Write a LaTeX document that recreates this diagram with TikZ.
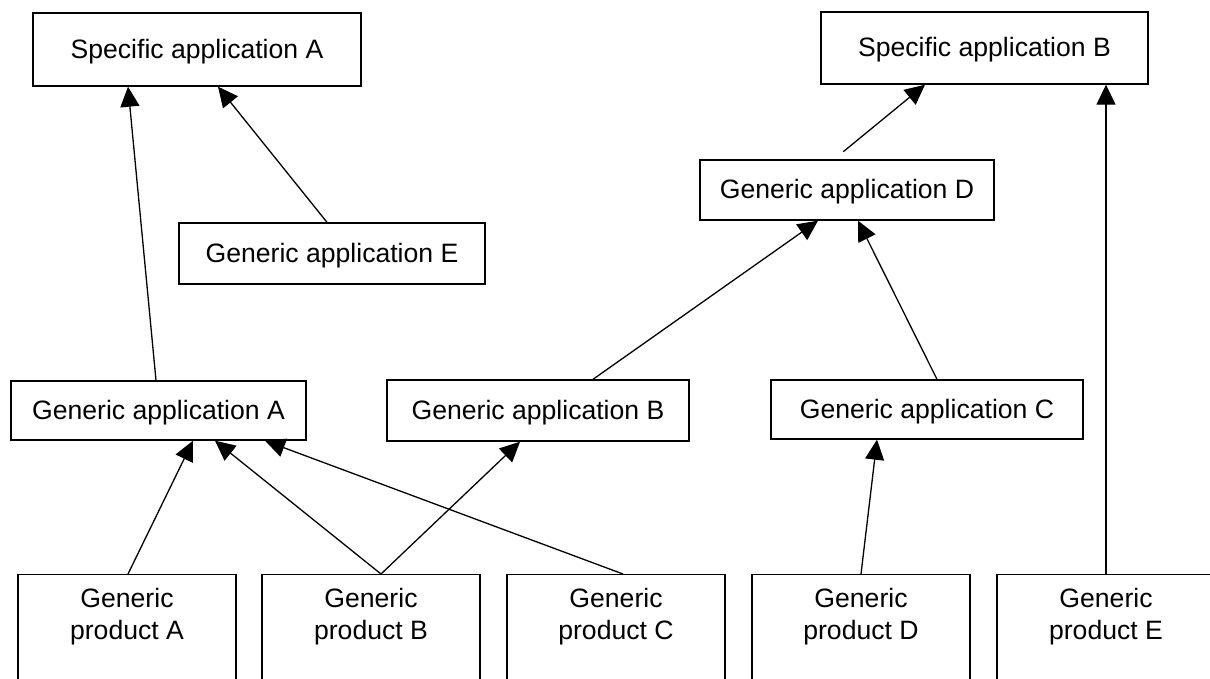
\documentclass[tikz,border=0pt]{standalone}
\usepackage{fontspec}
\setmainfont{Liberation Sans}
\usetikzlibrary{arrows.meta}

\tikzset{
  box/.style={draw, line width=1.4pt, inner sep=0pt, text height=19.4pt, text depth=1.5pt,
              font=\fontsize{26.6}{32}\selectfont},
  prodbox/.style={draw, line width=1.4pt, inner sep=0pt, anchor=north,
                  minimum width=218pt, minimum height=160pt},
  prodtext/.style={anchor=north, inner sep=0pt, align=center,
                  font=\fontsize{26.6}{32}\selectfont},
  arr/.style={line width=1.3pt, -{Triangle[length=20pt, width=19pt]}}
}

\begin{document}
\begin{tikzpicture}[x=1pt, y=-1pt]
  \useasboundingbox (0,0) rectangle (1210,679);
  \clip (0,0) rectangle (1210,679);

  % applications
  \node[box, minimum width=328pt, minimum height=73pt] (sA) at (197,49.5) {Specific application A};
  \node[box, minimum width=327pt, minimum height=72pt] (sB) at (984.5,48) {Specific application B};
  \node[box, minimum width=294pt, minimum height=60pt] (gD) at (847,190) {Generic application D};
  \node[box, minimum width=306pt, minimum height=61pt] (gE) at (332,253.5) {Generic application E};
  \node[box, minimum width=295pt, minimum height=59pt] (gA) at (158.5,410.5) {Generic application A};
  \node[box, minimum width=302pt, minimum height=61pt] (gB) at (538,410.5) {Generic application B};
  \node[box, minimum width=312pt, minimum height=59pt] (gC) at (927,409.5) {Generic application C};

  % products
  \foreach \n/\x/\l in {pA/127/A, pB/371/B, pC/616/C, pD/861/D, pE/1106/E} {
    \node[prodbox] (\n) at (\x,574) {};
    \node[prodtext] (\n t) at (\x,588.5) {Generic\\product \l};
  }

  % dependencies
  \draw[arr] ([xshift=-2.5pt]gA.north) -- ([xshift=-69pt]sA.south);
  \draw[arr] ([xshift=-5pt]gE.north) -- ([xshift=21pt]sA.south);
  \draw[arr, shorten <=12pt] ([xshift=-13pt]gD.north) -- ([xshift=-59.5pt]sB.south);
  \draw[arr] (pE.north) -- (pE.north |- sB.south);
  \draw[arr] ([xshift=55pt]gB.north) -- ([xshift=-29pt]gD.south);
  \draw[arr] ([xshift=10pt]gC.north) -- ([xshift=11pt]gD.south);
  \draw[arr] ([xshift=1pt]pA.north) -- ([xshift=34.5pt]gA.south);
  \draw[arr] ([xshift=10pt]pB.north) -- ([xshift=56.5pt]gA.south);
  \draw[arr] ([xshift=7pt]pC.north) -- ([xshift=106.5pt]gA.south);
  \draw[arr] ([xshift=10pt]pB.north) -- ([xshift=-18pt]gB.south);
  \draw[arr] (pD.north) -- ([xshift=-50pt]gC.south);
\end{tikzpicture}
\end{document}
